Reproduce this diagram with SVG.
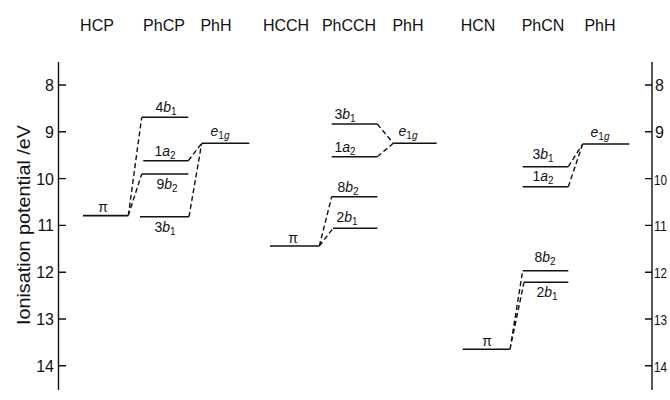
<svg xmlns="http://www.w3.org/2000/svg" width="670" height="400" viewBox="0 0 670 400">
<style>
text{font-family:"Liberation Sans",Arial,sans-serif;fill:#111}
.hd{font-size:16px;text-anchor:middle}
.ax{font-size:16px}
.rx{font-size:15px}
.lb{font-size:14px;text-anchor:middle}
.it{font-style:italic}
.sub{font-size:10px}
.lv{stroke:#111;stroke-width:1.6;fill:none}
.ds{stroke:#111;stroke-width:1.4;fill:none;stroke-dasharray:5 3}
.axl{stroke:#111;stroke-width:1.4;fill:none}
</style>
<rect width="670" height="400" fill="#fff"/>
<g id="headers">
<text class="hd" x="97" y="31">HCP</text>
<text class="hd" x="164" y="31">PhCP</text>
<text class="hd" x="216" y="31">PhH</text>
<text class="hd" x="286" y="31">HCCH</text>
<text class="hd" x="349" y="31">PhCCH</text>
<text class="hd" x="408" y="31">PhH</text>
<text class="hd" x="478" y="31">HCN</text>
<text class="hd" x="543" y="31">PhCN</text>
<text class="hd" x="600" y="31">PhH</text>
</g>
<g id="left-axis">
<path class="axl" d="M58.5 62V390M58.5 85H66M58.5 131.8H66M58.5 178.6H66M58.5 225.4H66M58.5 272.2H66M58.5 319H66M58.5 365.8H66"/>
<text class="ax" x="54" y="91" text-anchor="end">8</text>
<text class="ax" x="54" y="137.5" text-anchor="end">9</text>
<text class="ax" x="54" y="184.5" text-anchor="end">10</text>
<text class="ax" x="54" y="231" text-anchor="end">11</text>
<text class="ax" x="54" y="278" text-anchor="end">12</text>
<text class="ax" x="54" y="325" text-anchor="end">13</text>
<text class="ax" x="54" y="371.5" text-anchor="end">14</text>
<text x="30" y="225" font-size="19" text-anchor="middle" textLength="200" lengthAdjust="spacingAndGlyphs" transform="rotate(-90 30 225)">Ionisation potential /eV</text>
</g>
<g id="right-axis">
<path class="axl" d="M652 62V390M645 85H652M645 131.8H652M645 178.6H652M645 225.4H652M645 272.2H652M645 319H652M645 365.8H652"/>
<text class="ax" x="655" y="91">8</text>
<text class="ax" x="655" y="137.5">9</text>
<text class="rx" x="654" y="184.5" textLength="13" lengthAdjust="spacingAndGlyphs">10</text>
<text class="rx" x="654" y="231" textLength="13" lengthAdjust="spacingAndGlyphs">11</text>
<text class="rx" x="654" y="278" textLength="13" lengthAdjust="spacingAndGlyphs">12</text>
<text class="rx" x="654" y="325" textLength="13" lengthAdjust="spacingAndGlyphs">13</text>
<text class="rx" x="654" y="371.5" textLength="13" lengthAdjust="spacingAndGlyphs">14</text>
</g>
<g id="connectors">
<path class="ds" d="M128.3 215.6L141.7 117.3M128.3 215.6L141.7 174M188.3 160.7L201.7 143.3M189 216.7L201.7 143.3"/>
<path class="ds" d="M319.3 246L331.7 196.7M319.3 246L333 228.3M377.3 124L393.3 143.3M377.3 156.7L393.3 143.3"/>
<path class="ds" d="M510 349.3L522.7 270.7M510 349.3L524 282.3M568.3 166.7L582.7 144M568.3 186.7L582.7 144"/>
</g>
<g id="hcp-pi"><path class="lv" d="M83 215.6H128.3"/><text class="lb" x="103" y="212">π</text></g>
<g id="phcp-4b1"><path class="lv" d="M141.7 117.3H188.3"/><text class="lb" x="166" y="112">4<tspan class="it">b</tspan><tspan class="sub" dy="3">1</tspan></text></g>
<g id="phcp-1a2"><path class="lv" d="M143.3 160.7H188.3"/><text class="lb" x="165" y="156">1<tspan class="it">a</tspan><tspan class="sub" dy="3">2</tspan></text></g>
<g id="phcp-9b2"><path class="lv" d="M141.7 174H188.3"/><text class="lb" x="167" y="189">9<tspan class="it">b</tspan><tspan class="sub" dy="3">2</tspan></text></g>
<g id="phcp-3b1"><path class="lv" d="M140 216.7H189"/><text class="lb" x="165" y="232">3<tspan class="it">b</tspan><tspan class="sub" dy="3">1</tspan></text></g>
<g id="phh1-e1g"><path class="lv" d="M201.7 143.3H249.3"/><text class="lb" x="220" y="136"><tspan class="it">e</tspan><tspan class="sub" dy="3">1<tspan class="it">g</tspan></tspan></text></g>
<g id="hcch-pi"><path class="lv" d="M270 246H319.3"/><text class="lb" x="293" y="243">π</text></g>
<g id="phcch-3b1"><path class="lv" d="M331.7 124H377.3"/><text class="lb" x="345" y="119">3<tspan class="it">b</tspan><tspan class="sub" dy="3">1</tspan></text></g>
<g id="phcch-1a2"><path class="lv" d="M331.7 156.7H377.3"/><text class="lb" x="345" y="152">1<tspan class="it">a</tspan><tspan class="sub" dy="3">2</tspan></text></g>
<g id="phcch-8b2"><path class="lv" d="M331.7 196.7H377.3"/><text class="lb" x="348" y="192">8<tspan class="it">b</tspan><tspan class="sub" dy="3">2</tspan></text></g>
<g id="phcch-2b1"><path class="lv" d="M333 228.3H377.3"/><text class="lb" x="347" y="222">2<tspan class="it">b</tspan><tspan class="sub" dy="3">1</tspan></text></g>
<g id="phh2-e1g"><path class="lv" d="M393.3 143.3H436.7"/><text class="lb" x="408" y="136"><tspan class="it">e</tspan><tspan class="sub" dy="3">1<tspan class="it">g</tspan></tspan></text></g>
<g id="hcn-pi"><path class="lv" d="M462.7 349.3H510"/><text class="lb" x="487" y="346">π</text></g>
<g id="phcn-3b1"><path class="lv" d="M522.7 166.7H568.3"/><text class="lb" x="543" y="159">3<tspan class="it">b</tspan><tspan class="sub" dy="3">1</tspan></text></g>
<g id="phcn-1a2"><path class="lv" d="M522.7 186.7H568.3"/><text class="lb" x="543" y="181">1<tspan class="it">a</tspan><tspan class="sub" dy="3">2</tspan></text></g>
<g id="phcn-8b2"><path class="lv" d="M522.7 270.7H568.3"/><text class="lb" x="545" y="262">8<tspan class="it">b</tspan><tspan class="sub" dy="3">2</tspan></text></g>
<g id="phcn-2b1"><path class="lv" d="M524 282.3H568.3"/><text class="lb" x="547" y="297">2<tspan class="it">b</tspan><tspan class="sub" dy="3">1</tspan></text></g>
<g id="phh3-e1g"><path class="lv" d="M582.7 144H629.3"/><text class="lb" x="600" y="137"><tspan class="it">e</tspan><tspan class="sub" dy="3">1<tspan class="it">g</tspan></tspan></text></g>
</svg>
